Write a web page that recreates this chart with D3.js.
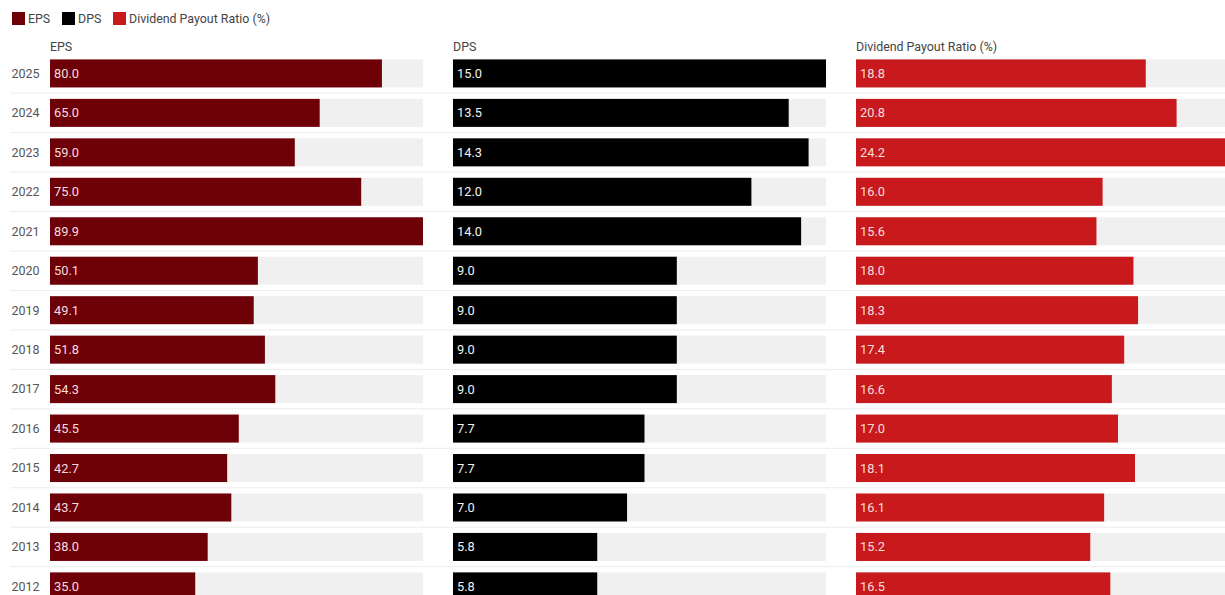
<!DOCTYPE html>
<html>
<head>
<meta charset="utf-8">
<script src="https://cdn.jsdelivr.net/npm/d3@7"></script>
<style>
  html, body { margin: 0; padding: 0; background: #fff; }
  svg { display: block; font-family: Roboto, "Noto Sans", sans-serif; }
</style>
</head>
<body>
<svg id="chart" width="1225" height="595"></svg>
<script>
// Fiscal years, newest first
const years = ["2025","2024","2023","2022","2021","2020","2019","2018","2017","2016","2015","2014","2013","2012"];
// Earnings per share
const eps = [80.0, 65.0, 59.0, 75.0, 89.9, 50.1, 49.1, 51.8, 54.3, 45.5, 42.7, 43.7, 38.0, 35.0];
// Dividend per share
const dps = [15.0, 13.5, 14.3, 12.0, 14.0, 9.0, 9.0, 9.0, 9.0, 7.7, 7.7, 7.0, 5.8, 5.8];
// Dividend payout ratio (%)
const payout = [18.8, 20.8, 24.2, 16.0, 15.6, 18.0, 18.3, 17.4, 16.6, 17.0, 18.1, 16.1, 15.2, 16.5];

const seriesNames = ["EPS", "DPS", "Dividend Payout Ratio (%)"];
const seriesValues = [eps, dps, payout];
const seriesColors = ["#6e0008", "#000000", "#c81a1c"];

const svg = d3.select("#chart");
const W = 1225;

const panelStart = 50, panelStep = 403, panelWidth = 373;

const y = d3.scaleBand()
  .domain(years)
  .range([53.7, 53.7 + 14 * 39.46])
  .paddingInner(0.29)
  .paddingOuter(0.145);

// Row separators
const sepYs = years.map(yr => y(yr) + y.bandwidth() + y.step() * 0.145);
svg.append("g").selectAll("line")
  .data(sepYs.slice(0, -1))
  .join("line")
  .attr("x1", 10).attr("x2", W)
  .attr("y1", d => d).attr("y2", d => d)
  .attr("stroke", "#ececec").attr("stroke-width", 1);

// Year labels
svg.append("g").selectAll("text")
  .data(years)
  .join("text")
  .attr("x", 39.5)
  .attr("y", d => y(d) + y.bandwidth() / 2)
  .attr("dy", "0.35em")
  .attr("text-anchor", "end")
  .attr("fill", "#555")
  .attr("font-size", 12.5)
  .text(d => d);

// One panel per series
seriesNames.forEach((name, i) => {
  const vals = seriesValues[i];
  const x0 = panelStart + i * panelStep;
  const x = d3.scaleLinear()
    .domain([0, d3.max(vals)])
    .range([x0, x0 + panelWidth]);

  const g = svg.append("g");

  g.append("text")
    .attr("x", x0)
    .attr("y", 51)
    .attr("fill", "#444")
    .attr("font-size", 12.4)
    .text(name);

  // Background tracks
  g.append("g").selectAll("rect")
    .data(years)
    .join("rect")
    .attr("x", x(0))
    .attr("y", d => y(d))
    .attr("width", x.range()[1] - x.range()[0])
    .attr("height", y.bandwidth())
    .attr("fill", "#f0f0f0");

  // Value bars
  g.append("g").selectAll("rect")
    .data(vals)
    .join("rect")
    .attr("x", x(0))
    .attr("y", (d, j) => y(years[j]))
    .attr("width", d => x(d) - x(0))
    .attr("height", y.bandwidth())
    .attr("fill", seriesColors[i]);

  // Value labels
  g.append("g").selectAll("text")
    .data(vals)
    .join("text")
    .attr("x", x(0) + 4)
    .attr("y", (d, j) => y(years[j]) + y.bandwidth() / 2)
    .attr("dy", "0.35em")
    .attr("fill", i === 1 ? "#f2f2f2" : "#f6dede")
    .attr("font-size", 12.8)
    .text(d => d.toFixed(1));
});

// Legend
const legend = svg.append("g");
const legendX = [12, 62, 113];
seriesNames.forEach((name, i) => {
  legend.append("rect")
    .attr("x", legendX[i]).attr("y", 12)
    .attr("width", 13).attr("height", 13)
    .attr("fill", seriesColors[i]);
  legend.append("text")
    .attr("x", legendX[i] + 16)
    .attr("y", 18.5)
    .attr("dy", "0.35em")
    .attr("fill", "#444")
    .attr("font-size", 12.4)
    .text(name);
});
</script>
</body>
</html>
